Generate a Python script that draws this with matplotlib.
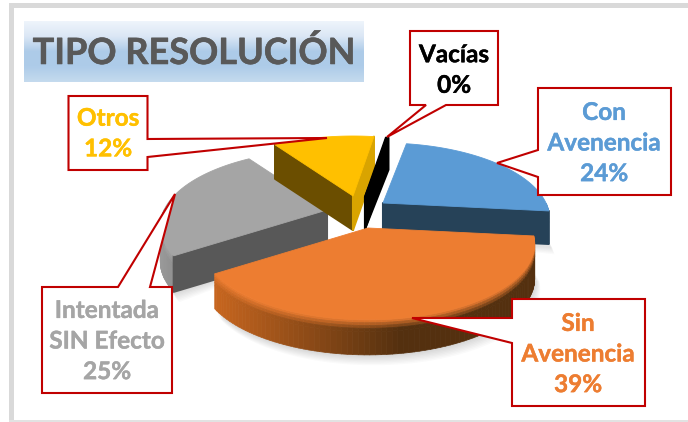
import numpy as np
import matplotlib
matplotlib.use('Agg')
import matplotlib.pyplot as plt
import matplotlib.patheffects as pe
from matplotlib.patches import Polygon, Rectangle
from matplotlib.collections import PolyCollection
from matplotlib.colors import LinearSegmentedColormap, to_rgb

plt.rcParams['font.family'] = ['Lato', 'DejaVu Sans']

# data
categories = ['Con\nAvenencia', 'Sin\nAvenencia', 'Intentada\nSIN Efecto', 'Otros', 'Vacías']
values = [24, 39, 25, 12, 0.3]
labels = ['24%', '39%', '25%', '12%', '0%']

# style of the slices
top_colors = ['#5b9bd5', '#ed7d31', '#a5a5a5', '#ffc000', '#000000']
text_colors = ['#5b9bd5', '#ed7d31', '#a5a5a5', '#ffc000', '#000000']
start_wall = [None, None, '#585858', '#6b4e00', '#000000']
end_wall = ['#264258', None, None, '#d9a400', '#000000']
rim_left = ['#264258', '#c8661f', '#9a9a9a', '#6b4e00', '#000000']
rim_right = ['#264258', '#54300f', '#6e6e6e', '#6b4e00', '#000000']
apex_x = [383, 368, 327, 353, 365]
apex_y = [203, 228, 210, 196, 197]
depths = [33, 35, 36, 34, 32]
draw_order = [2, 3, 4, 0, 1]

start_angle = 10
rx, ry, k = 163, 72.6, 0.21
red = '#c00000'


def project(theta, ax0, ay0):
    u = np.sin(theta)
    v = -np.cos(theta)
    w = 1 - k * v
    return ax0 + rx * u / w, ay0 + ry * v / w


def mix(c1, c2, t):
    a, b = np.array(to_rgb(c1)), np.array(to_rgb(c2))
    return a + (b - a) * t


fig = plt.figure(figsize=(6.88, 4.22), dpi=100)
ax = fig.add_axes([0, 0, 1, 1])

# page frame
ax.add_patch(Rectangle((9, 3), 679, 5, fc='#d9d9d9', ec='none'))
ax.add_patch(Rectangle((9, 3), 5, 419, fc='#d9d9d9', ec='none'))
ax.add_patch(Rectangle((9, 420), 679, 2, fc='#e2e2e2', ec='none'))

# title band
band = LinearSegmentedColormap.from_list('band', ['#eef4fb', '#dbe7f5', '#adcbe8', '#aecce9', '#c4daee'])
ax.imshow(np.linspace(0, 1, 60).reshape(-1, 1), cmap=band, extent=(24, 364, 82, 21), aspect='auto', zorder=1)
ax.text(194, 53, 'TIPO RESOLUCIÓN', color='#595959', fontsize=26, fontweight='bold',
        ha='center', va='center', zorder=2,
        path_effects=[pe.withStroke(linewidth=0.4, foreground='#595959')])

# slices, angles come from the values
fractions = np.array(values) / sum(values) * 2 * np.pi
starts = np.radians(start_angle) + np.concatenate([[0], np.cumsum(fractions)[:-1]])

for i in draw_order:
    a0 = starts[i]
    a1 = a0 + fractions[i]
    ax0, ay0 = apex_x[i], apex_y[i]
    depth = depths[i]
    z = draw_order.index(i) * 10
    theta = np.linspace(a0, a1, 90)
    xs, ys = project(theta, ax0, ay0)

    # soft shadow under the front of the slice
    front = np.cos(theta) < 0
    if front.any():
        for s in range(1, 9):
            pts = np.column_stack([xs[front] + s * 0.7, ys[front] + depth + s * 1.3])
            pts = np.vstack([pts, [ax0, ay0 + depth]])
            ax.add_patch(Polygon(pts, fc='black', ec='none', alpha=0.018, zorder=3))

    # rim, split in small quads for the shading
    quads, cols = [], []
    levels = [0, 0.08, 0.16, 0.24, 0.34, 1.0]
    for j in range(len(theta) - 1):
        if not front[j]:
            continue
        t = (xs[j] - xs.min()) / max(xs.max() - xs.min(), 1)
        base = mix(rim_left[i], rim_right[i], min(t * 1.7, 1))
        for m in range(len(levels) - 1):
            top_y = depth * levels[m]
            bot_y = depth * levels[m + 1]
            quads.append([(xs[j], ys[j] + top_y), (xs[j + 1], ys[j + 1] + top_y),
                          (xs[j + 1], ys[j + 1] + bot_y), (xs[j], ys[j] + bot_y)])
            blend = 1 - min(m / 3, 1)
            cols.append(mix(base, top_colors[i], blend * 0.85))
    if quads:
        ax.add_collection(PolyCollection(quads, facecolors=cols, edgecolors=cols, linewidths=0.5, zorder=4 + z))

    # cut faces
    if start_wall[i]:
        ax.add_patch(Polygon([(ax0, ay0), (xs[0], ys[0]), (xs[0], ys[0] + depth), (ax0, ay0 + depth)],
                             fc=start_wall[i], ec=start_wall[i], lw=1.5, joinstyle='round', zorder=5 + z))
    if end_wall[i]:
        ax.add_patch(Polygon([(ax0, ay0), (xs[-1], ys[-1]), (xs[-1], ys[-1] + depth), (ax0, ay0 + depth)],
                             fc=end_wall[i], ec=end_wall[i], lw=1.5, joinstyle='round', zorder=5 + z))

    # top face
    ax.add_patch(Polygon(np.vstack([[ax0, ay0], np.column_stack([xs, ys])]),
                         fc=top_colors[i], ec=top_colors[i], lw=0.6, zorder=6 + z))


def callout(x0, y0, x1, y1, base, tip, side):
    # box with a pointer that starts on one of its sides
    b0, b1 = base
    if side == 'right':
        pts = [(x0, y0), (x1, y0), (x1, b0), tip, (x1, b1), (x1, y1), (x0, y1)]
    elif side == 'left':
        pts = [(x0, y0), (x1, y0), (x1, y1), (x0, y1), (x0, b1), tip, (x0, b0)]
    elif side == 'top':
        pts = [(x0, y0), (b0, y0), tip, (b1, y0), (x1, y0), (x1, y1), (x0, y1)]
    else:
        pts = [(x0, y0), (x1, y0), (x1, y1), (b1, y1), tip, (b0, y1), (x0, y1)]
    ax.add_patch(Polygon(pts, fc='white', ec=red, lw=1.5, joinstyle='miter', zorder=100))


callout(538, 88, 671, 195, (150, 177), (497, 163), 'left')
callout(512, 299, 645, 406, (318, 343), (412, 318), 'left')
callout(42, 287, 172, 393, (118, 150), (175, 194), 'top')
callout(68.5, 96, 147.5, 170, (139, 157), (327, 138), 'right')
callout(410, 31, 498, 105, (426, 446), (387, 137), 'bottom')

text_x = [604, 578, 107, 108, 454]
text_y = [143, 354, 341, 133.5, 70]
for i in range(len(categories)):
    ax.text(text_x[i], text_y[i], categories[i] + '\n' + labels[i], color=text_colors[i],
            fontsize=17.5, fontweight='bold', ha='center', va='center', linespacing=1.4, zorder=101,
            path_effects=[pe.withStroke(linewidth=0.3, foreground=text_colors[i])])

ax.set_xlim(0, 688)
ax.set_ylim(422, 0)
ax.axis('off')
fig.savefig('out.png', dpi=100)
